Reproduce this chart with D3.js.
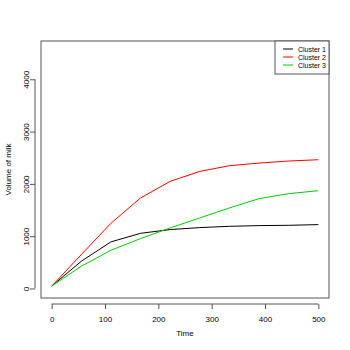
<!DOCTYPE html>
<html>
<head>
<meta charset="utf-8">
<script src="https://cdn.jsdelivr.net/npm/d3@7"></script>
<style>
  body { margin: 0; background: #fff; }
  text { font-family: "Liberation Sans", Arial, sans-serif; fill: #000; }
</style>
</head>
<body>
<svg id="chart" width="350" height="350"></svg>
<script>
// values
const times    = [0, 55.6, 111.1, 166.7, 222.2, 277.8, 333.3, 388.9, 444.4, 500];
const cluster1 = [44, 521, 891, 1055, 1126, 1164, 1189, 1202, 1208, 1221];
const cluster2 = [44, 649, 1246, 1731, 2048, 2239, 2347, 2398, 2437, 2462];
const cluster3 = [44, 426, 731, 954, 1158, 1349, 1540, 1718, 1813, 1870];
const seriesNames  = ["Cluster 1", "Cluster 2", "Cluster 3"];
const seriesColors = ["#000000", "#ff0000", "#00cd00"];
const xTicks = [0, 100, 200, 300, 400, 500];
const yTicks = [0, 1000, 2000, 3000, 4000];

const svg = d3.select("#chart");
const plotL = 41, plotR = 329, plotT = 41, plotB = 298;

// R style 4% padding around xlim / ylim
const x = d3.scaleLinear().domain([-20, 520]).range([plotL, plotR]);
const y = d3.scaleLinear().domain([-182, 4732]).range([plotB, plotT]);

const seriesData = [cluster1, cluster2, cluster3];

const line = d3.line()
  .x((d, i) => x(times[i]))
  .y(d => y(d));

svg.selectAll("path.series")
  .data(seriesData)
  .enter().append("path")
  .attr("class", "series")
  .attr("fill", "none")
  .attr("stroke", (d, i) => seriesColors[i])
  .attr("stroke-width", 1)
  .attr("d", line);

// plot box
svg.append("rect")
  .attr("x", plotL).attr("y", plotT)
  .attr("width", plotR - plotL).attr("height", plotB - plotT)
  .attr("fill", "none").attr("stroke", "#555").attr("stroke-width", 1);

// x axis
const xAxis = d3.axisBottom(x).tickValues(xTicks).tickFormat(d3.format("d")).tickSize(5).tickPadding(7);
const gx = svg.append("g")
  .attr("transform", "translate(0," + (plotB + 6) + ")")
  .call(xAxis);
gx.select(".domain").attr("d", "M" + x(0) + ",0H" + x(500)).attr("stroke", "#555");
gx.selectAll(".tick line").attr("stroke", "#555");
gx.selectAll("text").attr("font-size", 8).attr("fill", "#222")
  .attr("font-family", "Liberation Sans, Arial, sans-serif");

// y axis
const yAxis = d3.axisLeft(y).tickValues(yTicks).tickFormat(d3.format("d")).tickSize(5).tickPadding(0);
const gy = svg.append("g")
  .attr("transform", "translate(" + (plotL - 6) + ",0)")
  .call(yAxis);
gy.select(".domain").attr("d", "M0," + y(0) + "V" + y(4000)).attr("stroke", "#555");
gy.selectAll(".tick line").attr("stroke", "#555");
gy.selectAll("text")
  .attr("font-size", 8).attr("fill", "#222")
  .attr("font-family", "Liberation Sans, Arial, sans-serif")
  .attr("x", null).attr("dy", null)
  .attr("text-anchor", "middle")
  .attr("transform", "translate(-6,0) rotate(-90)");

// axis titles
svg.append("text")
  .attr("x", (plotL + plotR) / 2).attr("y", 336)
  .attr("text-anchor", "middle").attr("font-size", 8).attr("fill", "#222")
  .text("Time");

svg.append("text")
  .attr("transform", "translate(11," + ((plotT + plotB) / 2) + ") rotate(-90)")
  .attr("text-anchor", "middle").attr("font-size", 8).attr("fill", "#222")
  .text("Volume of milk");

// legend
const lg = svg.append("g").attr("transform", "translate(275,41)");
lg.append("rect")
  .attr("width", 54).attr("height", 33)
  .attr("fill", "#fff").attr("stroke", "#555").attr("stroke-width", 1);
seriesNames.forEach((name, i) => {
  const yy = 8 + i * 8;
  lg.append("line")
    .attr("x1", 8).attr("x2", 18).attr("y1", yy).attr("y2", yy)
    .attr("stroke", seriesColors[i]);
  lg.append("text")
    .attr("x", 23).attr("y", yy + 2.5)
    .attr("font-size", 7).attr("fill", "#222")
    .text(name);
});
</script>
</body>
</html>
